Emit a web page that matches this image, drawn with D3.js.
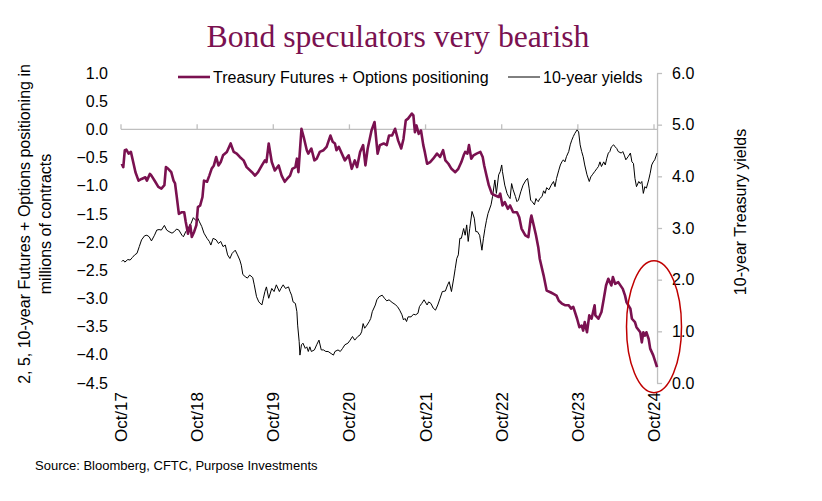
<!DOCTYPE html>
<html>
<head>
<meta charset="utf-8">
<script src="https://cdn.jsdelivr.net/npm/d3@7"></script>
<style>
  html, body { margin: 0; padding: 0; background: #ffffff; }
  svg { display: block; }
</style>
</head>
<body>
<svg id="chart" width="822" height="501"></svg>
<script>
// ---- Data (decimal years) ----
const positioningYears = [
  2017.76,2017.78,2017.80,2017.82,2017.85,2017.88,2017.91,2017.94,2017.98,2018.02,
  2018.07,2018.09,2018.13,2018.15,2018.20,2018.24,2018.28,2018.32,2018.34,2018.37,
  2018.41,2018.44,2018.46,2018.48,2018.51,2018.55,2018.58,2018.60,2018.63,2018.66,
  2018.68,2018.71,2018.74,2018.76,2018.79,2018.82,2018.84,2018.88,2018.91,2018.94,
  2018.97,2019.00,2019.03,2019.06,2019.09,2019.14,2019.19,2019.23,2019.27,2019.31,
  2019.36,2019.40,2019.47,2019.51,2019.55,2019.60,2019.64,2019.66,2019.69,2019.73,
  2019.77,2019.82,2019.86,2019.90,2019.93,2019.97,2020.00,2020.04,2020.06,2020.08,
  2020.12,2020.15,2020.19,2020.21,2020.25,2020.29,2020.32,2020.36,2020.41,2020.45,
  2020.50,2020.53,2020.56,2020.58,2020.61,2020.69,2020.74,2020.78,2020.82,2020.85,
  2020.89,2020.93,2020.96,2020.99,2021.04,2021.08,2021.12,2021.15,2021.20,2021.24,
  2021.27,2021.31,2021.35,2021.39,2021.43,2021.46,2021.49,2021.52,2021.57,2021.59,
  2021.61,2021.63,2021.66,2021.69,2021.72,2021.74,2021.77,2021.81,2021.85,2021.90,
  2021.94,2021.98,2022.01,2022.05,2022.09,2022.14,2022.18,2022.22,2022.25,2022.27,
  2022.30,2022.32,2022.35,2022.38,2022.42,2022.47,2022.50,2022.52,2022.55,2022.58,
  2022.62,2022.66,2022.71,2022.73,2022.76,2022.79,2022.83,2022.86,2022.90,2022.95,
  2022.98,2023.01,2023.06,2023.10,2023.13,2023.14,2023.17,2023.20,2023.23,2023.25,
  2023.30,2023.34,2023.39,2023.43,2023.47,2023.50,2023.54,2023.58,2023.63,2023.66,
  2023.69,2023.74,2023.77,2023.80,2023.82,2023.84,2023.87,2023.90,2023.93,2023.97,
  2023.98,2024.02,2024.06,2024.09,2024.12,2024.15,2024.19,2024.21,2024.24,2024.28,
  2024.34,2024.37,2024.39,2024.44,2024.46,2024.50,2024.52,2024.57,2024.59,2024.61,
  2024.63,2024.65,2024.68,2024.70,2024.74,2024.79
];
const positioningValues = [
  -0.61,-0.67,-0.37,-0.36,-0.43,-0.40,-0.58,-0.76,-0.91,-0.88,
  -0.85,-0.91,-0.79,-0.82,-0.93,-1.02,-1.05,-0.99,-0.67,-0.70,
  -0.76,-0.91,-0.96,-1.17,-1.50,-1.47,-1.47,-1.64,-1.85,-1.70,
  -1.91,-1.82,-1.70,-1.38,-1.35,-1.20,-0.91,-0.93,-0.82,-0.70,
  -0.64,-0.49,-0.64,-0.58,-0.46,-0.40,-0.25,-0.40,-0.43,-0.49,
  -0.55,-0.67,-0.76,-0.82,-0.76,-0.64,-0.55,-0.58,-0.25,-0.58,
  -0.73,-0.64,-0.82,-0.93,-0.88,-0.82,-0.70,-0.67,-0.52,-0.76,
  0.01,-0.14,-0.37,-0.43,-0.34,-0.55,-0.52,-0.40,-0.37,-0.31,
  -0.11,-0.22,-0.25,-0.37,-0.31,-0.55,-0.46,-0.70,-0.55,-0.67,
  -0.40,-0.28,-0.64,-0.34,-0.02,0.13,-0.43,-0.28,-0.25,-0.28,
  -0.11,-0.11,0.01,-0.20,-0.34,-0.17,0.16,0.19,0.28,0.25,
  -0.05,0.07,-0.08,-0.02,-0.28,-0.40,-0.61,-0.58,-0.52,-0.43,
  -0.49,-0.37,-0.55,-0.61,-0.70,-0.76,-0.70,-0.58,-0.46,-0.40,
  -0.43,-0.28,-0.52,-0.46,-0.43,-0.40,-0.49,-0.64,-0.82,-0.99,
  -1.14,-1.17,-1.20,-1.14,-1.35,-1.29,-1.41,-1.35,-1.47,-1.47,
  -1.56,-1.76,-1.88,-1.91,-1.59,-1.53,-1.70,-1.88,-2.09,-2.30,
  -2.59,-2.86,-2.89,-2.92,-2.95,-3.04,-3.09,-3.12,-3.12,-3.18,
  -3.15,-3.36,-3.51,-3.48,-3.57,-3.42,-3.60,-3.30,-3.36,-3.12,
  -3.30,-3.36,-3.24,-3.01,-2.77,-2.65,-2.77,-2.62,-2.74,-2.71,
  -2.83,-2.95,-3.07,-3.18,-3.36,-3.42,-3.51,-3.60,-3.78,-3.60,
  -3.66,-3.60,-3.72,-3.89,-4.01,-4.22
];
const yieldYears = [
  2017.76,2017.78,2017.80,2017.84,2017.87,2017.90,2017.93,2017.96,2017.99,2018.02,
  2018.06,2018.09,2018.12,2018.15,2018.19,2018.22,2018.25,2018.28,2018.32,2018.35,
  2018.38,2018.42,2018.45,2018.48,2018.51,2018.55,2018.57,2018.60,2018.63,2018.67,
  2018.70,2018.73,2018.76,2018.78,2018.81,2018.84,2018.88,2018.91,2018.93,2018.96,
  2019.00,2019.03,2019.06,2019.09,2019.12,2019.15,2019.18,2019.21,2019.25,2019.28,
  2019.31,2019.33,2019.35,2019.38,2019.41,2019.44,2019.48,2019.50,2019.53,2019.56,
  2019.60,2019.62,2019.64,2019.66,2019.69,2019.73,2019.76,2019.79,2019.83,2019.85,
  2019.88,2019.91,2019.95,2019.97,2019.99,2020.01,2020.04,2020.06,2020.07,2020.09,
  2020.10,2020.12,2020.14,2020.17,2020.19,2020.21,2020.23,2020.25,2020.29,2020.32,
  2020.35,2020.38,2020.41,2020.44,2020.47,2020.51,2020.54,2020.56,2020.60,2020.63,
  2020.66,2020.69,2020.73,2020.76,2020.79,2020.82,2020.86,2020.89,2020.91,2020.93,
  2020.95,2020.98,2021.01,2021.03,2021.05,2021.09,2021.11,2021.14,2021.18,2021.21,
  2021.24,2021.27,2021.31,2021.35,2021.38,2021.41,2021.44,2021.46,2021.48,2021.50,
  2021.52,2021.56,2021.59,2021.62,2021.65,2021.67,2021.70,2021.73,2021.77,2021.79,
  2021.82,2021.85,2021.88,2021.91,2021.94,2021.97,2022.01,2022.04,2022.06,2022.09,
  2022.12,2022.14,2022.16,2022.18,2022.20,2022.22,2022.25,2022.27,2022.29,2022.31,
  2022.33,2022.36,2022.39,2022.41,2022.43,2022.46,2022.49,2022.51,2022.53,2022.55,
  2022.57,2022.61,2022.63,2022.65,2022.66,2022.68,2022.71,2022.73,2022.75,2022.76,
  2022.79,2022.82,2022.84,2022.86,2022.88,2022.90,2022.93,2022.95,2022.97,2023.00,
  2023.03,2023.07,2023.09,2023.11,2023.13,2023.15,2023.18,2023.20,2023.21,2023.23,
  2023.25,2023.28,2023.30,2023.32,2023.34,2023.37,2023.40,2023.43,2023.45,2023.47,
  2023.50,2023.52,2023.54,2023.56,2023.58,2023.60,2023.63,2023.65,2023.67,2023.69,
  2023.71,2023.74,2023.76,2023.78,2023.80,2023.82,2023.84,2023.87,2023.90,2023.92,
  2023.94,2023.97,2024.00,2024.02,2024.04,2024.06,2024.09,2024.11,2024.13,2024.15,
  2024.17,2024.19,2024.22,2024.24,2024.26,2024.28,2024.32,2024.34,2024.36,2024.38,
  2024.41,2024.44,2024.46,2024.48,2024.50,2024.52,2024.55,2024.57,2024.59,2024.61,
  2024.63,2024.65,2024.68,2024.70,2024.72,2024.74,2024.76,2024.79
];
const yieldValues = [
  2.35,2.38,2.34,2.39,2.38,2.43,2.48,2.51,2.64,2.77,
  2.85,2.86,2.83,2.75,2.86,2.96,2.97,2.96,3.05,2.96,
  2.93,2.90,2.93,2.98,2.96,2.86,2.83,2.93,2.99,3.09,
  3.20,3.15,3.19,3.12,3.03,2.90,2.80,2.74,2.67,2.80,
  2.77,2.70,2.74,2.64,2.67,2.48,2.41,2.51,2.57,2.48,
  2.38,2.28,2.10,2.06,2.03,2.09,2.04,1.90,1.67,1.57,
  1.51,1.64,1.77,1.86,1.64,1.83,1.77,1.90,1.77,1.83,
  1.90,1.83,1.86,1.77,1.70,1.57,1.54,1.38,1.12,0.80,
  0.54,0.74,0.77,0.67,0.70,0.61,0.70,0.61,0.64,0.74,
  0.83,0.64,0.64,0.61,0.61,0.57,0.54,0.61,0.64,0.61,
  0.67,0.74,0.77,0.83,0.90,0.83,0.90,0.93,0.99,1.15,
  1.06,1.12,1.19,1.25,1.38,1.51,1.61,1.67,1.70,1.64,
  1.59,1.61,1.56,1.52,1.48,1.41,1.32,1.22,1.25,1.19,
  1.28,1.28,1.33,1.32,1.35,1.48,1.54,1.61,1.51,1.57,
  1.54,1.45,1.41,1.51,1.64,1.77,1.78,1.90,1.96,1.77,
  2.03,2.22,2.41,2.48,2.80,2.80,2.99,2.86,3.06,2.74,
  2.99,3.32,3.19,2.93,2.93,2.86,2.57,2.80,2.99,3.15,
  3.28,3.45,3.61,3.83,3.93,3.67,4.03,4.09,4.22,4.09,
  3.83,3.67,3.61,3.57,3.86,3.74,3.61,3.51,3.54,3.70,
  3.83,3.93,3.96,3.77,3.54,3.51,3.45,3.57,3.54,3.51,
  3.57,3.61,3.72,3.67,3.78,3.74,3.83,3.90,3.80,3.96,
  4.12,4.22,4.28,4.32,4.28,4.38,4.48,4.61,4.70,4.77,
  4.83,4.90,4.86,4.61,4.48,4.38,4.22,4.03,3.90,3.99,
  4.03,4.09,4.15,4.19,4.28,4.19,4.28,4.22,4.35,4.45,
  4.48,4.57,4.61,4.57,4.54,4.48,4.45,4.48,4.41,4.32,
  4.38,4.45,4.28,4.25,3.96,3.80,3.90,3.86,3.90,3.67,
  3.80,3.77,3.93,4.06,4.22,4.28,4.32,4.45
];
const xTickYears = [2017.75,2018.75,2019.75,2020.75,2021.75,2022.75,2023.75,2024.75];
const xTickLabels = ["Oct/17","Oct/18","Oct/19","Oct/20","Oct/21","Oct/22","Oct/23","Oct/24"];
const leftTicks = [1.0,0.5,0.0,-0.5,-1.0,-1.5,-2.0,-2.5,-3.0,-3.5,-4.0,-4.5];
const rightTicks = [0,1,2,3,4,5,6];
const seriesNames = ["Treasury Futures + Options positioning", "10-year yields"];
const titleText = "Bond speculators very bearish";
const leftAxisTitle = ["2, 5, 10-year Futures + Options positioning in", "millions of contracts"];
const rightAxisTitle = "10-year Treasury yields";
const sourceText = "Source: Bloomberg, CFTC, Purpose Investments";

// ---- Styles ----
const PURPLE = "#7a1150";
const AXIS_GRAY = "#bfbfbf";
const FONT = "'Liberation Sans', Arial, sans-serif";

const svg = d3.select("#chart");
svg.append("rect").attr("width", 822).attr("height", 501).attr("fill", "#fff");

const x = d3.scaleLinear().domain([2017.75, 2024.75]).range([121, 654]);
const yL = d3.scaleLinear().domain([-4.5, 1.0]).range([383, 73]);
const yR = d3.scaleLinear().domain([0, 6]).range([383, 73]);
const rightAxisX = x(2024.79);

// Title
const title = svg.append("text")
  .attr("x", 398).attr("y", 47)
  .attr("text-anchor", "middle")
  .attr("font-family", "'Liberation Serif', 'Times New Roman', serif")
  .attr("font-size", 30)
  .attr("fill", PURPLE)
  .text(titleText);
{
  const w = title.node().getComputedTextLength();
  title.attr("font-size", 30 * 383 / w);
}

// Left axis (labels only)
const leftAxis = d3.axisLeft(yL).tickValues(leftTicks).tickFormat(d3.format(".1f")).tickSize(0).tickPadding(0);
const gL = svg.append("g").attr("transform", "translate(108,0)").call(leftAxis);
gL.select(".domain").remove();
gL.selectAll("text").attr("font-family", FONT).attr("font-size", 16).attr("fill", "#000");

// Right axis
const rightAxis = d3.axisRight(yR).tickValues(rightTicks).tickFormat(d3.format(".1f")).tickSize(5).tickPadding(10).tickSizeOuter(0);
const gR = svg.append("g").attr("transform", `translate(${rightAxisX},0)`).call(rightAxis);
gR.select(".domain").attr("stroke", AXIS_GRAY).attr("stroke-width", 1.3);
gR.selectAll(".tick line").attr("stroke", AXIS_GRAY).attr("stroke-width", 1.3);
gR.selectAll("text").attr("font-family", FONT).attr("font-size", 16).attr("fill", "#000");

// X axis line at 0 with upward ticks
const gX = svg.append("g").attr("transform", `translate(0,${yL(0)})`);
gX.append("line").attr("x1", x(2017.75)).attr("x2", rightAxisX)
  .attr("stroke", AXIS_GRAY).attr("stroke-width", 1.3);
gX.selectAll("line.tk").data(xTickYears).join("line").attr("class", "tk")
  .attr("x1", d => x(d)).attr("x2", d => x(d)).attr("y1", 0).attr("y2", -5)
  .attr("stroke", AXIS_GRAY).attr("stroke-width", 1.3);

// X tick labels at bottom (rotated)
svg.append("g").selectAll("text").data(xTickYears).join("text")
  .attr("transform", d => `translate(${x(d) + 6},${392}) rotate(-90)`)
  .attr("text-anchor", "end")
  .attr("font-family", FONT).attr("font-size", 17).attr("fill", "#000")
  .text((d, i) => xTickLabels[i]);

// Axis titles
const lt = svg.append("text")
  .attr("transform", "translate(30,224) rotate(-90)")
  .attr("text-anchor", "middle")
  .attr("font-family", FONT).attr("font-size", 16).attr("fill", "#000");
lt.append("tspan").attr("x", 0).attr("dy", 0).text(leftAxisTitle[0]);
lt.append("tspan").attr("x", 0).attr("dy", 21).text(leftAxisTitle[1]);

svg.append("text")
  .attr("transform", "translate(746,212) rotate(-90)")
  .attr("text-anchor", "middle")
  .attr("font-family", FONT).attr("font-size", 16).attr("fill", "#000")
  .text(rightAxisTitle);

// Lines
const yieldData = yieldYears.map((d, i) => [d, yieldValues[i]]);
const posData = positioningYears.map((d, i) => [d, positioningValues[i]]);

svg.append("path").datum(yieldData)
  .attr("fill", "none").attr("stroke", "#000").attr("stroke-width", 1)
  .attr("stroke-linejoin", "round")
  .attr("d", d3.line().x(d => x(d[0])).y(d => yR(d[1])));

svg.append("path").datum(posData)
  .attr("fill", "none").attr("stroke", PURPLE).attr("stroke-width", 2.6)
  .attr("stroke-linejoin", "round")
  .attr("d", d3.line().x(d => x(d[0])).y(d => yL(d[1])));

// Legend
const lg = svg.append("g").attr("font-family", FONT).attr("font-size", 16);
lg.append("line").attr("x1", 178).attr("x2", 210).attr("y1", 77).attr("y2", 77)
  .attr("stroke", PURPLE).attr("stroke-width", 2.6);
lg.append("text").attr("x", 213).attr("y", 83).text(seriesNames[0]);
lg.append("line").attr("x1", 508).attr("x2", 540).attr("y1", 77).attr("y2", 77)
  .attr("stroke", "#000").attr("stroke-width", 1);
lg.append("text").attr("x", 543).attr("y", 83).text(seriesNames[1]);

// Annotation ellipse around the latest readings
svg.append("ellipse")
  .attr("cx", x(2024.75)).attr("cy", yL(-3.5))
  .attr("rx", 27.5).attr("ry", 66)
  .attr("fill", "none").attr("stroke", "#c00000").attr("stroke-width", 1.5);

// Source
svg.append("text").attr("x", 35).attr("y", 470)
  .attr("font-family", FONT).attr("font-size", 13).attr("fill", "#000")
  .text(sourceText);
</script>
</body>
</html>
